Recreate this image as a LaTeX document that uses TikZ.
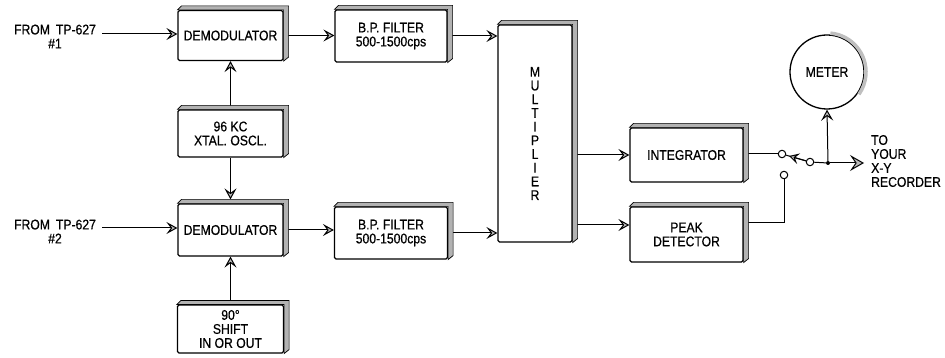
\documentclass[tikz,border=0pt]{standalone}
\usepackage{fontspec}
\setmainfont{Liberation Sans}[FakeStretch=0.87,FakeBold=0.6]
\usetikzlibrary{arrows.meta,calc}
\begin{document}
\begin{tikzpicture}[x=1pt,y=-1pt,
  font=\fontsize{14}{14}\selectfont,
  blk/.style={draw,line width=1.2pt,rounded corners=1.5pt,fill=white,align=center,inner sep=0pt},
  arr/.style={line width=1pt,-{Stealth[length=11pt,width=12pt,inset=4.5pt,fill=gray!55]}},
  bigarr/.style={line width=1pt,-{Stealth[length=14pt,width=16pt,inset=5.5pt,fill=gray!55]}},
  smallarr/.style={line width=1pt,-{Stealth[length=10pt,width=11pt,inset=4pt,fill=gray!55]}},
  wire/.style={line width=1pt},
  band/.style={fill=gray!60,draw=black,line width=0.7pt},
  term/.style={circle,draw,line width=1pt,fill=white,minimum size=7.5pt,inner sep=0pt},
  lbl/.style={align=center,inner sep=0pt}]
\useasboundingbox (0,0) rectangle (945,358);

% blocks
\node[blk,minimum width=105pt,minimum height=50pt] (dem1) at (230.5,35.5) {DEMODULATOR};
\node[blk,minimum width=105pt,minimum height=47pt] (osc) at (230.5,133.5) {96 KC\\XTAL. OSCL.};
\node[blk,minimum width=105pt,minimum height=52pt] (dem2) at (230.5,230) {DEMODULATOR};
\node[blk,minimum width=106pt,minimum height=48pt] (shift) at (230.5,329) {90°\\SHIFT\\IN OR OUT};
\node[blk,minimum width=112pt,minimum height=52pt] (flt1) at (391,36) {B.P. FILTER\\500-1500cps};
\node[blk,minimum width=113pt,minimum height=52pt] (flt2) at (391,233) {B.P. FILTER\\500-1500cps};
\node[blk,minimum width=74pt,minimum height=217pt,font=\fontsize{14}{13.7}\selectfont] (mult) at (535,133.5) {M\\U\\L\\T\\I\\P\\L\\I\\E\\R};
\node[blk,minimum width=113pt,minimum height=54pt] (integ) at (686.5,155) {INTEGRATOR};
\node[blk,minimum width=113pt,minimum height=55pt] (peak) at (686.5,234.5) {PEAK\\DETECTOR};
\node[circle,draw,line width=1.3pt,minimum size=74pt,inner sep=0pt,fill=white] (meter) at (827,72) {METER};

% labels
\node[lbl] (src1) at (55,36.5) {FROM\hspace{6pt}TP-627\\\#1};
\node[lbl] (src2) at (55,231.5) {FROM\hspace{6pt}TP-627\\\#2};
\node[align=left,anchor=west,inner sep=0pt] (rec) at (871,161) {TO\\YOUR\\X-Y\\RECORDER};

% switch parts
\node[term] (c1) at (782,154) {};
\node[term] (c2) at (810,162) {};
\node[term] (c3) at (784,175) {};
\node[circle,fill,inner sep=0pt,minimum size=4pt] (j) at (828,163) {};
\coordinate (in1) at (102,34);
\coordinate (in2) at (102,228);
\coordinate (out) at (864,163);
\coordinate (pk) at ([yshift=9.5pt]peak.west);
\coordinate (pk2) at ([yshift=11.5pt]peak.east);

% connectors
\draw[arr] (in1) -- (in1 -| dem1.west);
\draw[arr] (in2) -- (in2 -| dem2.west);
\draw[arr] (osc.north) -- (dem1.south);
\draw[arr] (osc.south) -- ([yshift=4pt]dem2.north);
\draw[arr] ([yshift=4pt]shift.north) -- (dem2.south);
\draw[arr] (dem1.east) -- (dem1.east -| flt1.west);
\draw[arr] (dem2.east) -- (dem2.east -| flt2.west);
\draw[arr] (flt1.east) -- (flt1.east -| mult.west);
\draw[arr] (flt2.east) -- (flt2.east -| mult.west);
\draw[arr] (mult.east |- integ.west) -- (integ.west);
\draw[arr] (mult.east |- pk) -- (pk);
\draw[wire] (integ.east |- c1) -- (c1);
\draw[wire] (c2) -- (c1);
\draw[smallarr] (c2) -- ($(c1)!0.25!(c2)$);
\draw[wire] (c2) -- (j);
\draw[bigarr] (j) -- (out);
\draw[arr] (j) -- (meter.south);
\draw[wire] (pk2) -- (pk2 -| c3.south) -- (c3.south);

% 3-D bands
\foreach \n in {dem1,osc,dem2,shift,flt1,flt2,mult,integ,peak}
  \draw[band] (\n.north west) -- ++(4,-4) -- ($(\n.north east)+(5,-4)$) -- ($(\n.south east)+(5,-4)$) -- (\n.south east) -- (\n.north east) -- cycle;
\draw[gray!50,line width=3.5pt] ([shift={(85:39pt)}]meter.center) arc[start angle=85,end angle=-35,radius=39pt];
\end{tikzpicture}
\end{document}
